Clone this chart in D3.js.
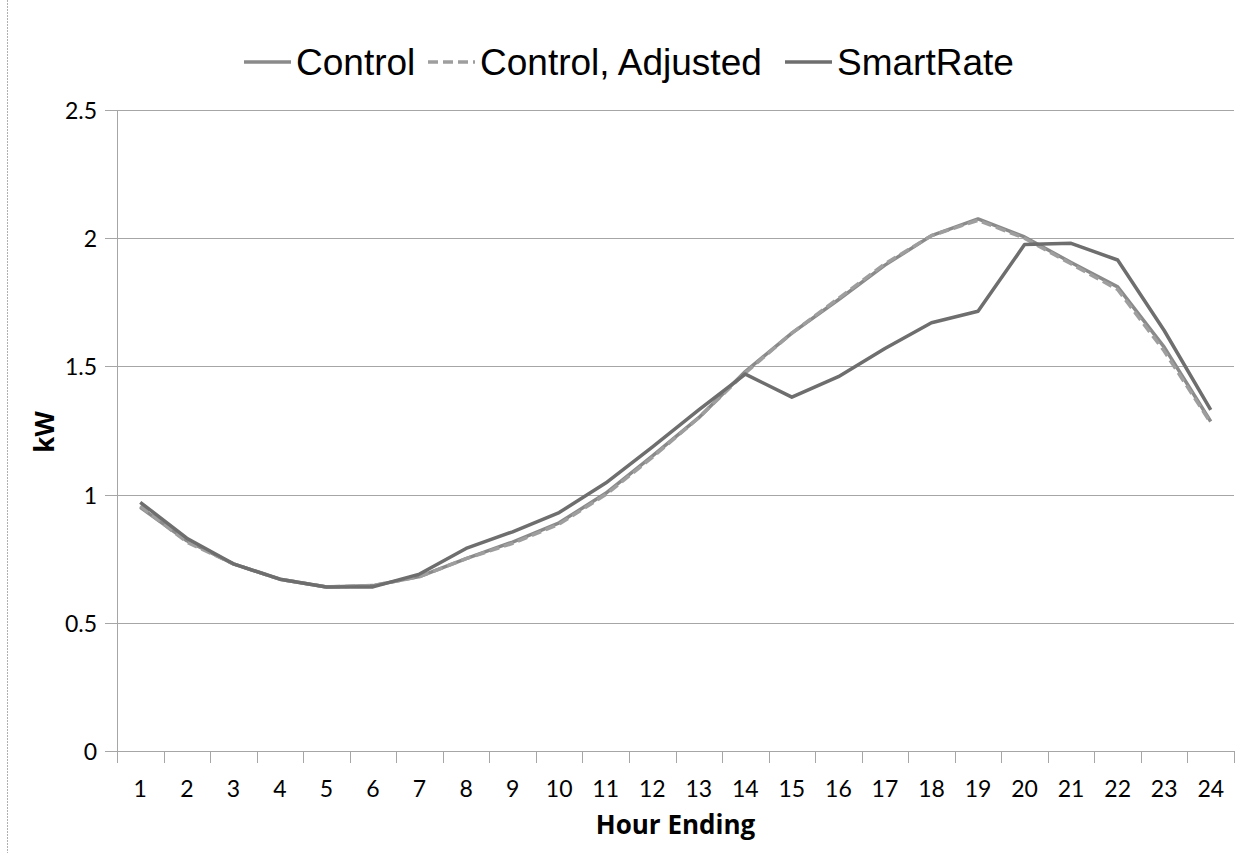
<!DOCTYPE html>
<html>
<head>
<meta charset="utf-8">
<script src="https://cdn.jsdelivr.net/npm/d3@7"></script>
<style>
  body { margin: 0; background: #fff; }
  svg { display: block; }
</style>
</head>
<body>
<div id="chart"></div>
<script>
var hours = d3.range(1, 25);
var yTicks = [0, 0.5, 1, 1.5, 2, 2.5];

var control = [0.95, 0.82, 0.73, 0.67, 0.64, 0.645, 0.68, 0.75, 0.815, 0.89, 1.005, 1.15,
               1.30, 1.48, 1.63, 1.76, 1.895, 2.01, 2.075, 2.005, 1.905, 1.81, 1.575, 1.285];
var controlAdjusted = [0.955, 0.815, 0.73, 0.67, 0.64, 0.645, 0.68, 0.75, 0.81, 0.885, 1.0, 1.145,
                       1.30, 1.475, 1.63, 1.765, 1.9, 2.01, 2.07, 2.0, 1.9, 1.80, 1.56, 1.28];
var smartRate = [0.97, 0.83, 0.73, 0.67, 0.64, 0.64, 0.69, 0.79, 0.855, 0.93, 1.045, 1.185,
                 1.33, 1.47, 1.38, 1.46, 1.57, 1.67, 1.715, 1.975, 1.98, 1.915, 1.64, 1.33];

var series = [
  { name: "Control", values: control, color: "#8a8a8a", dash: null },
  { name: "Control, Adjusted", values: controlAdjusted, color: "#9e9e9e", dash: "10,5" },
  { name: "SmartRate", values: smartRate, color: "#6e6e6e", dash: null }
];

var outerWidth = 1250, outerHeight = 853;
var margin = { top: 110, right: 16, bottom: 102, left: 117 };
var width = outerWidth - margin.left - margin.right,
    height = outerHeight - margin.top - margin.bottom;

var svg = d3.select("#chart").append("svg")
    .attr("width", outerWidth)
    .attr("height", outerHeight);

// chart border (left edge visible)
svg.append("line")
    .attr("x1", 7.5).attr("x2", 7.5)
    .attr("y1", 0).attr("y2", outerHeight)
    .attr("stroke", "#b0b0b0")
    .attr("stroke-dasharray", "2,1");

var g = svg.append("g")
    .attr("transform", "translate(" + margin.left + "," + margin.top + ")");

var x = d3.scaleBand().domain(hours).range([0, width]);
var y = d3.scaleLinear().domain([0, 2.5]).range([height, 0]);

// gridlines
g.append("g")
    .selectAll("line")
    .data(yTicks)
  .enter().append("line")
    .attr("x1", -12)
    .attr("x2", width)
    .attr("y1", d => Math.round(y(d)) + 0.5)
    .attr("y2", d => Math.round(y(d)) + 0.5)
    .attr("stroke", "#a6a6a6")
    .attr("stroke-width", 1);

// y axis line
g.append("line")
    .attr("x1", 0.5).attr("x2", 0.5)
    .attr("y1", 0).attr("y2", height + 12)
    .attr("stroke", "#a6a6a6");

// x tick marks at band edges
g.append("g")
    .selectAll("line")
    .data(hours)
  .enter().append("line")
    .attr("x1", d => Math.round(x(d) + x.bandwidth()) + 0.5)
    .attr("x2", d => Math.round(x(d) + x.bandwidth()) + 0.5)
    .attr("y1", height)
    .attr("y2", height + 12)
    .attr("stroke", "#a6a6a6");

// y tick labels
g.append("g")
    .selectAll("text")
    .data(yTicks)
  .enter().append("text")
    .attr("x", -20)
    .attr("y", d => y(d) + 9)
    .attr("text-anchor", "end")
    .attr("font-family", "Lato, 'Open Sans', sans-serif")
    .attr("font-size", "23px")
    .attr("fill", "#000")
    .text(d => d);

// x tick labels
g.append("g")
    .selectAll("text")
    .data(hours)
  .enter().append("text")
    .attr("x", d => x(d) + x.bandwidth() / 2)
    .attr("y", height + 46)
    .attr("text-anchor", "middle")
    .attr("font-family", "Lato, 'Open Sans', sans-serif")
    .attr("font-size", "23px")
    .attr("fill", "#000")
    .text(d => d);

// axis titles
svg.append("text")
    .attr("x", margin.left + width / 2)
    .attr("y", 834)
    .attr("text-anchor", "middle")
    .attr("font-family", "'Open Sans', Lato, sans-serif")
    .attr("font-weight", "bold")
    .attr("font-size", "26px")
    .text("Hour Ending");

svg.append("text")
    .attr("transform", "translate(54,432) rotate(-90)")
    .attr("text-anchor", "middle")
    .attr("font-family", "'Open Sans', Lato, sans-serif")
    .attr("font-weight", "bold")
    .attr("font-size", "26px")
    .text("kW");

// lines
var line = d3.line()
    .x((d, i) => x(hours[i]) + x.bandwidth() / 2)
    .y(d => y(d));

g.append("g")
    .selectAll("path")
    .data(series)
  .enter().append("path")
    .attr("d", d => line(d.values))
    .attr("fill", "none")
    .attr("stroke", d => d.color)
    .attr("stroke-width", 3.5)
    .attr("stroke-dasharray", d => d.dash)
    .attr("stroke-linejoin", "round");

// legend
var legendX = [244, 428, 785];
var legend = svg.append("g").selectAll("g")
    .data(series)
  .enter().append("g")
    .attr("transform", (d, i) => "translate(" + legendX[i] + ",62)");

legend.append("line")
    .attr("x1", 0).attr("x2", 47)
    .attr("y1", 0).attr("y2", 0)
    .attr("stroke", d => d.color)
    .attr("stroke-width", 3.5)
    .attr("stroke-dasharray", d => d.dash);

legend.append("text")
    .attr("x", 52)
    .attr("y", 13)
    .attr("font-family", "'Liberation Sans', Arial, sans-serif")
    .attr("font-size", "37px")
    .attr("fill", "#000")
    .text(d => d.name);
</script>
</body>
</html>
